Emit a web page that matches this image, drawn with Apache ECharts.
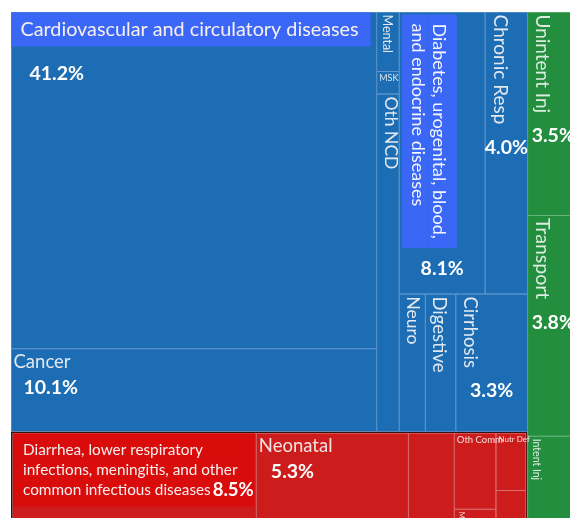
<!DOCTYPE html>
<html>
<head>
<meta charset="utf-8">
<script src="https://cdn.jsdelivr.net/npm/echarts@6/dist/echarts.min.js"></script>
<style>
html,body{margin:0;padding:0;background:#fff;}
#chart{width:570px;height:518px;}
</style>
</head>
<body>
<div id="chart"></div>
<script>
// ---------------- DATA (share of deaths, %) ----------------
const ncdNames = [
  'Cardiovascular and circulatory diseases', 'Cancer',
  'Mental', 'MSK', 'Oth NCD',
  'Diabetes, urogenital, blood,\nand endocrine diseases', 'Chronic Resp',
  'Neuro', 'Digestive', 'Cirrhosis'
];
const ncdValues = [41.2, 10.1, 0.45, 0.17, 2.55, 8.1, 4.0, 1.2, 1.4, 3.3];
// grouping of the cells (indices into the arrays above)
const ncdTree = [0, 1, [2, 3, 4], [[5, 6], [7, 8, 9]]];

const commNames = [
  'Diarrhea, lower respiratory\ninfections, meningitis, and other\ncommon infectious diseases',
  'Neonatal', '', 'Oth Comm', 'Maternal', 'Nutr Def', ''
];
const commValues = [8.5, 5.3, 1.6, 1.1, 0.35, 0.6, 0.45];
const commTree = [0, [1, 2], [[3, 4], [5, 6]]];

const injNames = ['Unintent Inj', 'Transport', 'Intent Inj'];
const injValues = [3.5, 3.8, 1.7];
const injTree = [0, 1, 2];

const pctThreshold = 3; // percentages are printed for cells of at least this size

// ---------------- STYLE ----------------
const FONT = 'Lato';
const PCT_SIZE = 19.5;
const colors     = {ncd: '#1c6db4', comm: '#cd1c1c', inj: '#248e3f'};
const lineColors = {ncd: '#78a5d3', comm: '#e48989', inj: '#7fbf8e'};
const textColors = {ncd: '#e2e8f0', comm: '#f4e2e2', inj: '#dcebdf'};
const labelStyle = {
  'Cardiovascular and circulatory diseases': {size: 19.8, hl: '#3b67f7', pctGap: 16, pctIndent: 18},
  'Cancer': {size: 18.5, pctGap: 3, pctIndent: 10},
  'Mental': {size: 12.5, vertical: true},
  'MSK': {size: 9},
  'Oth NCD': {size: 17.5, vertical: true},
  'Diabetes, urogenital, blood,\nand endocrine diseases': {size: 18, lh: 21, vertical: true, hl: '#3b67f7'},
  'Chronic Resp': {size: 19, vertical: true},
  'Neuro': {size: 17.5, vertical: true},
  'Digestive': {size: 18.5, vertical: true},
  'Cirrhosis': {size: 18.5, vertical: true},
  'Diarrhea, lower respiratory\ninfections, meningitis, and other\ncommon infectious diseases': {size: 15.3, lh: 20, hl: '#d90b0b', pctInline: 18.5},
  'Neonatal': {size: 18.5, pctGap: 3, pctIndent: 12},
  'Oth Comm': {size: 9.5},
  'Maternal': {size: 7.5, vertical: true},
  'Nutr Def': {size: 8},
  'Unintent Inj': {size: 19, vertical: true},
  'Transport': {size: 19.5, vertical: true},
  'Intent Inj': {size: 10.5, vertical: true}
};

const ctx = document.createElement('canvas').getContext('2d');
function tw(text, size, bold) {
  ctx.font = (bold ? 'bold ' : '') + size + 'px ' + FONT;
  return ctx.measureText(text).width;
}
function pctText(v) { return v >= pctThreshold ? v.toFixed(1) + '%' : ''; }
function lineH(st) { return st.lh || Math.round(st.size * 1.25); }

// geometry of a rotated name (used by both label series)
function verticalInfo(name) {
  const st = labelStyle[name];
  const lines = name.split('\n');
  const lh = lineH(st);
  const w = Math.max(...lines.map(l => tw(l, st.size)));
  if (st.hl) {
    const p = {t: 7, b: 6, l: 9, r: 9};
    return {lines, lh, w, p, htot: p.t + p.b + lines.length * lh, len: p.l + w + p.r};
  }
  return {lines, lh, w, p: null, htot: lines.length * lh, len: w + 2};
}

function nameLabel(name, value, group) {
  if (!name) return {show: false};
  const st = labelStyle[name] || {size: 12};
  const size = st.size;
  const lh = lineH(st);
  const col = textColors[group];
  const pct = pctText(value);
  const rich = {
    n: {fontSize: size, lineHeight: lh, color: col},
    pct: {fontSize: PCT_SIZE, fontWeight: 'bold', color: '#ffffff'}
  };
  if (st.vertical) {
    const vi = verticalInfo(name);
    let parts;
    if (st.hl) {
      const p = vi.p;
      vi.lines.forEach((l, i) => {
        const pt = i === 0 ? p.t : 0, pb = i === vi.lines.length - 1 ? p.b : 0;
        rich['h' + i] = {fontSize: size, color: '#f3f5ff', backgroundColor: st.hl,
          width: vi.w, height: lh, lineHeight: lh + pt + pb, padding: [pt, p.r, pb, p.l]};
      });
      parts = vi.lines.map((l, i) => '{h' + i + '|' + l + '}');
    } else {
      parts = vi.lines.map(l => '{n|' + l + '}');
    }
    return {show: true, position: [2 + vi.htot, 2], rotate: -90, align: 'left', verticalAlign: 'top',
      formatter: parts.join('\n'), rich: rich, overflow: 'none'};
  }
  const lines = name.split('\n');
  let parts;
  if (st.hl) {
    const single = lines.length === 1;
    const padL = single ? 9 : 10, padR = single ? 12 : 1;
    const inlineSize = st.pctInline || PCT_SIZE;
    const pw = st.pctInline && pct ? tw(pct, inlineSize, true) + 2 : 0;
    const widths = lines.map(l => tw(l, size));
    const last = lines.length - 1;
    const boxW = Math.max(...widths.map((w, i) => w + padL + padR + (i === last ? pw : 0)));
    parts = lines.map((l, i) => {
      const pt = i === 0 ? 7 : 0;
      const pb = i === last ? (single ? 7 : 6) : 0;
      const tokH = single ? 20 : lh;
      const tokW = boxW - padL - padR - (i === last ? pw : 0);
      rich['h' + i] = {fontSize: size, color: '#f6f0f0', backgroundColor: st.hl,
        width: tokW, height: tokH, lineHeight: tokH + pt + pb, padding: [pt, padR, pb, padL]};
      if (i === last && pw) {
        rich.pi = {fontSize: inlineSize, fontWeight: 'bold', color: '#ffffff', backgroundColor: st.hl,
          height: tokH, lineHeight: tokH + pt + pb, padding: [pt, 1, pb, 1]};
        return '{h' + i + '|' + l + '}{pi|' + pct + '}';
      }
      return '{h' + i + '|' + l + '}';
    });
  } else {
    parts = lines.map(l => '{n|' + l + '}');
  }
  if (pct && !st.pctInline) {
    const gap = st.pctGap || 4, indent = st.pctIndent || 10;
    rich.pct.height = 22; rich.pct.lineHeight = 22 + gap; rich.pct.padding = [gap, 0, 0, indent];
    parts.push('{pct|' + pct + '}');
  }
  return {show: true, position: st.hl ? [0, 0] : [2, 1], align: 'left', verticalAlign: 'top',
    formatter: parts.join('\n'), rich: rich, overflow: 'none'};
}

// percentages of rotated names are drawn horizontally by a second, transparent copy of the treemap
function pctLabel(name, value) {
  const st = labelStyle[name];
  const pct = pctText(value);
  if (!name || !st || !st.vertical || !pct) return {show: false};
  const vi = verticalInfo(name);
  return {show: true, position: ['50%', 2 + vi.len + 10], align: 'center', verticalAlign: 'top',
    formatter: pct, fontSize: PCT_SIZE, fontWeight: 'bold', lineHeight: 22, color: '#ffffff', overflow: 'none'};
}

const groups = [
  {key: 'ncd', names: ncdNames, values: ncdValues, tree: ncdTree},
  {key: 'comm', names: commNames, values: commValues, tree: commTree},
  {key: 'inj', names: injNames, values: injValues, tree: injTree}
];

function buildData(labelFn, transparent) {
  const none = 'rgba(0,0,0,0)';
  return groups.map(g => {
    const fill = transparent ? none : colors[g.key];
    const line = transparent ? none : lineColors[g.key];
    const outer = transparent ? none : (g.key === 'comm' ? '#3a0f0f' : colors[g.key]);
    function build(spec) {
      if (Array.isArray(spec)) {
        return {name: '', children: spec.map(build), itemStyle: {color: fill, borderColor: fill, borderWidth: 0}};
      }
      return {name: g.names[spec], value: g.values[spec],
        itemStyle: {color: fill, borderColor: line, borderWidth: 0.5},
        label: labelFn(g.names[spec], g.values[spec], g.key)};
    }
    return {name: '', children: g.tree.map(build),
      itemStyle: {color: fill, borderColor: outer, borderWidth: g.key === 'comm' ? 1.5 : 0}};
  });
}

function seriesBase(data, silent) {
  return {
    type: 'treemap',
    left: 11, top: 12, width: 568, height: 523,
    squareRatio: 3.35,
    sort: false,
    roam: false,
    nodeClick: false,
    silent: silent,
    animation: false,
    breadcrumb: {show: false},
    itemStyle: {borderWidth: 0, gapWidth: 0, borderColor: 'rgba(0,0,0,0)'},
    upperLabel: {show: false},
    label: {show: !silent, fontFamily: FONT, overflow: 'none', padding: 0, color: '#fff'},
    emphasis: {disabled: true},
    data: data
  };
}

const chart = echarts.init(document.getElementById('chart'), null, {renderer: 'canvas'});
chart.setOption({
  animation: false,
  textStyle: {fontFamily: FONT},
  series: [
    seriesBase(buildData(nameLabel, false), false),
    seriesBase(buildData(pctLabel, true), true)
  ]
});
</script>
</body>
</html>
